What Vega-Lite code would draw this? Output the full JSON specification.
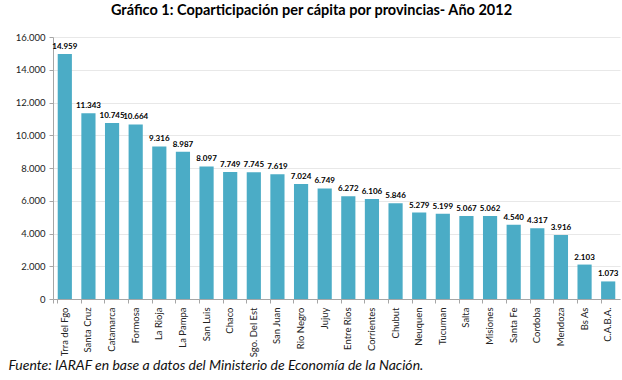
{
  "$schema": "https://vega.github.io/schema/vega-lite/v6.json",
  "width": 567,
  "height": 262,
  "autosize": {"type": "none"},
  "padding": {"left": 53, "top": 37, "right": 2, "bottom": 81},
  "background": "white",
  "config": {"font": "Lato", "view": {"stroke": null}},
  "title": {
    "text": "Gráfico 1: Coparticipación per cápita por provincias- Año 2012",
    "font": "Lato",
    "fontSize": 14.5,
    "fontWeight": "bold",
    "color": "#000000",
    "anchor": "middle",
    "dx": -25,
    "offset": 14
  },
  "data": {
    "values": [
      {"provincia": "Trra del Fgo", "valor": 14959},
      {"provincia": "Santa Cruz", "valor": 11343},
      {"provincia": "Catamarca", "valor": 10745},
      {"provincia": "Formosa", "valor": 10664},
      {"provincia": "La Rioja", "valor": 9316},
      {"provincia": "La Pampa", "valor": 8987},
      {"provincia": "San Luis", "valor": 8097},
      {"provincia": "Chaco", "valor": 7749},
      {"provincia": "Sgo. Del Est", "valor": 7745},
      {"provincia": "San Juan", "valor": 7619},
      {"provincia": "Rio Negro", "valor": 7024},
      {"provincia": "Jujuy", "valor": 6749},
      {"provincia": "Entre Rios", "valor": 6272},
      {"provincia": "Corrientes", "valor": 6106},
      {"provincia": "Chubut", "valor": 5846},
      {"provincia": "Neuquen", "valor": 5279},
      {"provincia": "Tucuman", "valor": 5199},
      {"provincia": "Salta", "valor": 5067},
      {"provincia": "Misiones", "valor": 5062},
      {"provincia": "Santa Fe", "valor": 4540},
      {"provincia": "Cordoba", "valor": 4317},
      {"provincia": "Mendoza", "valor": 3916},
      {"provincia": "Bs As", "valor": 2103},
      {"provincia": "C.A.B.A.", "valor": 1073}
    ]
  },
  "encoding": {
    "x": {
      "field": "provincia",
      "type": "nominal",
      "sort": null,
      "scale": {"paddingInner": 0.4, "paddingOuter": 0.2},
      "axis": {
        "title": "Fuente: IARAF en base a datos del Ministerio de Economía de la Nación.",
        "titleFont": "Lato",
        "titleFontSize": 14,
        "titleFontStyle": "italic",
        "titleFontWeight": "normal",
        "titleColor": "#111111",
        "titleAnchor": "start",
        "titleAlign": "left",
        "titleBaseline": "alphabetic",
        "titleX": -45,
        "titleY": 70,
        "labelAngle": -90,
        "labelFontSize": 9.5,
        "labelColor": "#222222",
        "labelPadding": 4,
        "domainColor": "#a6a6a6",
        "tickColor": "#a6a6a6",
        "tickSize": 4,
        "ticks": true,
        "bandPosition": 0,
        "tickExtra": true,
        "grid": false
      }
    },
    "y": {
      "field": "valor",
      "type": "quantitative",
      "scale": {"domain": [0, 16000]},
      "axis": {
        "title": null,
        "values": [0, 2000, 4000, 6000, 8000, 10000, 12000, 14000, 16000],
        "labelExpr": "replace(format(datum.value, ','), ',', '.')",
        "labelFontSize": 9.5,
        "labelColor": "#222222",
        "labelPadding": 4,
        "domainColor": "#a6a6a6",
        "tickColor": "#a6a6a6",
        "tickSize": 4,
        "gridColor": "#e8e8e8",
        "grid": true
      }
    }
  },
  "layer": [
    {"mark": {"type": "bar", "color": "#4bacc6"}},
    {
      "mark": {"type": "text", "baseline": "alphabetic", "dy": -5, "fontSize": 8, "fontWeight": "bold", "color": "#000000"},
      "encoding": {
        "text": {"field": "valor_label", "type": "nominal"}
      },
      "transform": [
        {"calculate": "replace(format(datum.valor, ','), ',', '.')", "as": "valor_label"}
      ]
    }
  ]
}
